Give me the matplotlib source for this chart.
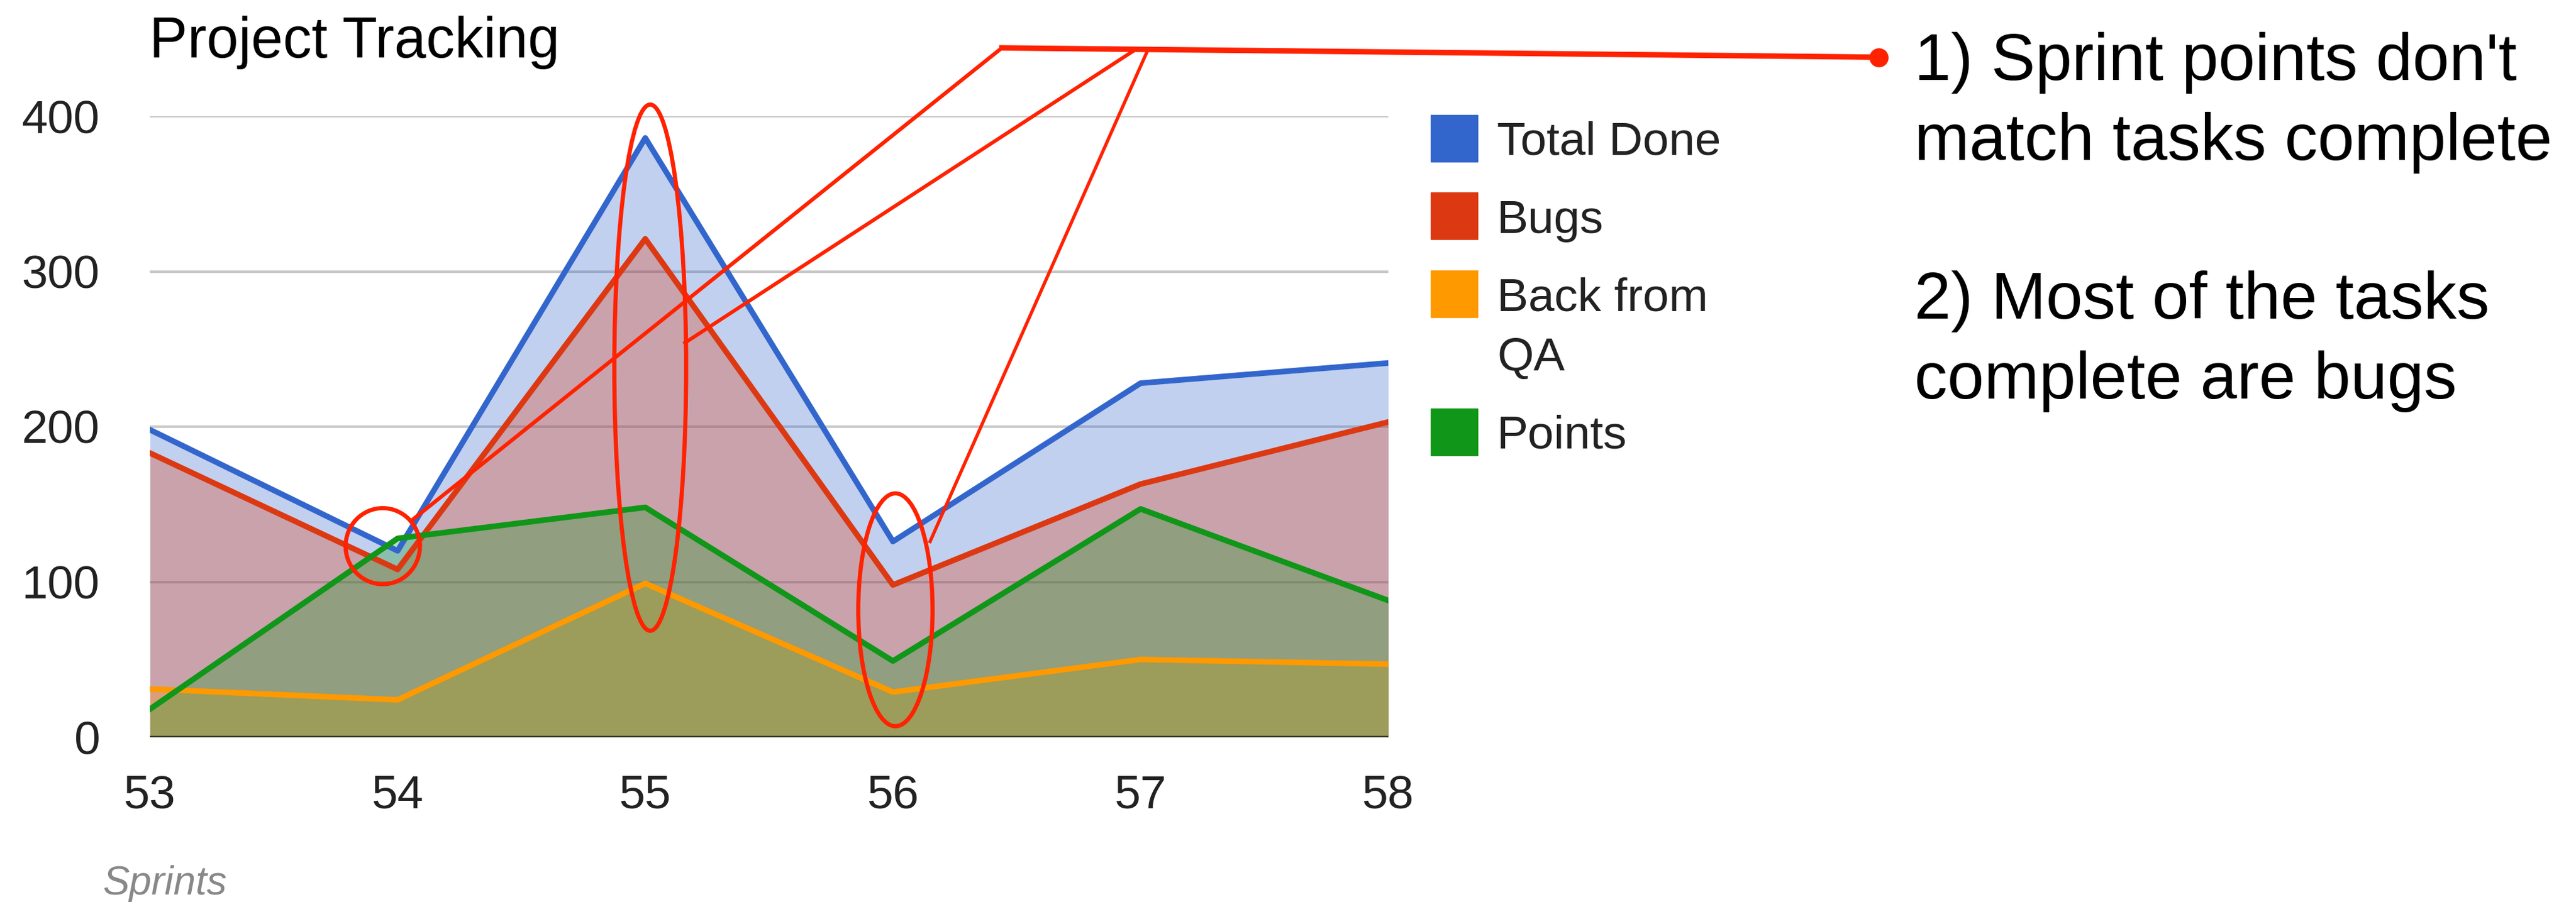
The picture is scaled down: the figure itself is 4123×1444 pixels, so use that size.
import textwrap
import numpy as np
import matplotlib.pyplot as plt
from matplotlib.patches import Ellipse, Rectangle

plt.rcParams['font.family'] = ['Liberation Sans', 'DejaVu Sans']

# data
sprints = [53, 54, 55, 56, 57, 58]
total_done = [198, 120, 386, 126, 228, 241]
bugs = [183, 108, 321, 98, 163, 203]
back_from_qa = [31, 24, 99, 29, 50, 47]
points = [18, 128, 148, 49, 147, 88]

series_names = ['Total Done', 'Bugs', 'Back from QA', 'Points']
series_colors = ['#3366CC', '#DC3912', '#FF9900', '#109618']
y_ticks = [0, 100, 200, 300, 400]

notes = ["1) Sprint points don't", "match tasks complete", "",
         "2) Most of the tasks", "complete are bugs"]

# hand drawn markup (data units): ellipses and leader lines
marks = [(53.94, 123, 0.30, 49), (55.02, 238, 0.29, 339), (56.01, 82, 0.30, 150)]
leaders = [((54.06, 140), (56.44, 444), 4.4),
           ((55.16, 254), (56.98, 443), 4.2),
           ((56.15, 126), (57.03, 443), 3.8)]
callout = [(56.44, 444), (59.98, 438)]
red = '#FF2200'

W, H = 4123, 1444
def fx(px):
    return px / W
def fy(py):
    return 1 - py / H

fig = plt.figure(figsize=(W / 100, H / 100), dpi=100)
ax = fig.add_axes([fx(240), fy(1180), (2222 - 240) / W, (1180 - 186) / H])

all_series = [total_done, bugs, back_from_qa, points]

# areas first, then the lines on top
for vals, c in zip(all_series, series_colors):
    ax.fill_between(sprints, 0, vals, color=c, alpha=0.3, lw=0, zorder=1)
for vals, c in zip(all_series, series_colors):
    ax.plot(sprints, vals, color=c, lw=6.5, zorder=2)

ax.axhline(0, color='#333333', lw=3, zorder=2.5)

ax.set_xlim(sprints[0], sprints[-1])
ax.set_ylim(0, 400)
ax.set_xticks(sprints)
ax.set_yticks(y_ticks)
ax.yaxis.grid(True, color='#C8C8C8', lw=2.9)
ax.set_axisbelow(True)
for s in ax.spines.values():
    s.set_visible(False)
ax.tick_params(axis='both', length=0, labelsize=54, colors='#222222')
ax.tick_params(axis='y', pad=58)
ax.tick_params(axis='x', pad=43)

# markup
for (x, y, w, h) in marks:
    ax.add_patch(Ellipse((x, y), w, h, fill=False, ec=red, lw=4.8,
                         clip_on=False, zorder=5))
for (p0, p1, lw) in leaders:
    ax.plot([p0[0], p1[0]], [p0[1], p1[1]], color=red, lw=lw,
            clip_on=False, zorder=5)
ax.plot([p[0] for p in callout], [p[1] for p in callout], color=red, lw=6.3,
        clip_on=False, zorder=5)
ax.plot([callout[-1][0]], [callout[-1][1]], 'o', ms=21, color=red,
        clip_on=False, zorder=5)

# legend
y_c = 221
for name, c in zip(series_names, series_colors):
    lines = textwrap.wrap(name, 10)
    fig.add_artist(Rectangle((fx(2290), fy(y_c + 37.5)), 75 / W, 75 / H,
                             color=c, transform=fig.transFigure))
    for k, ln in enumerate(lines):
        fig.text(fx(2396), fy(y_c + 27 + k * 96), ln, fontsize=54,
                 va='baseline', color='#222222')
    y_c += 124.5 + 96.5 * (len(lines) - 1)

fig.text(fx(239), fy(92), 'Project Tracking', fontsize=66, va='baseline',
         color='black')
fig.text(fx(164), fy(1432), 'Sprints', fontsize=46, style='italic',
         va='baseline', color='#888888')

for i, ln in enumerate(notes):
    if ln:
        fig.text(fx(3064), fy(128 + i * 127.5), ln, fontsize=76,
                 va='baseline', color='black')

fig.savefig('out.png', dpi=100)
